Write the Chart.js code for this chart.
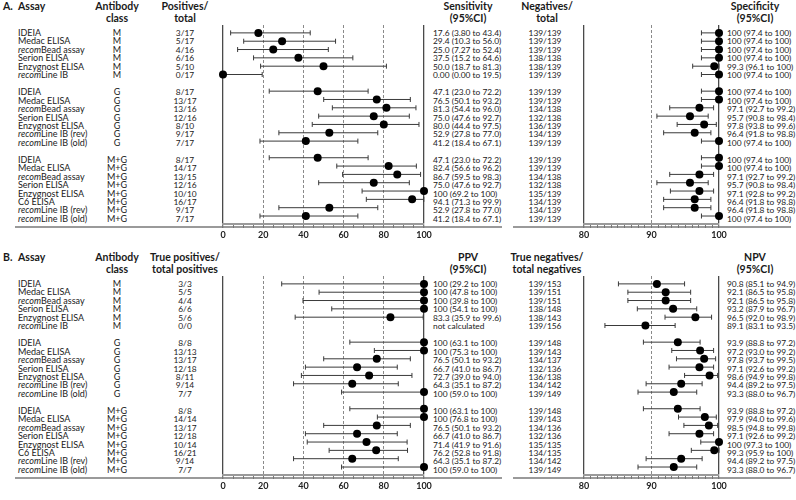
<!DOCTYPE html>
<html>
<head>
<meta charset="utf-8">
<script src="https://cdn.jsdelivr.net/npm/chart.js@4"></script>
<style>
body { margin: 0; background: #fff; width: 796px; height: 500px; position: relative; overflow: hidden;
       font-family: Lato, "Noto Sans", sans-serif; color: #1a1a1a; }
.t { position: absolute; font-size: 8.4px; line-height: 10px; white-space: pre; }
.n { font-size: 9px; }
.c { text-align: center; width: 100px; }
.h { position: absolute; font-size: 10.5px; font-weight: bold; line-height: 12px; white-space: pre; }
.rule { position: absolute; height: 2px; background: #9a9a9a; }
canvas { position: absolute; }
</style>
</head>
<body>
<script>
// row slots (blank slot between M, G and M+G blocks)
const slots = [0, 1, 2, 3, 4, 5, 7, 8, 9, 10, 11, 12, 13, 15, 16, 17, 18, 19, 20, 21, 22];
const assays = ["IDEIA", "Medac ELISA", "recomBead assay", "Serion ELISA", "Enzygnost ELISA", "recomLine IB",
    "IDEIA", "Medac ELISA", "recomBead assay", "Serion ELISA", "Enzygnost ELISA", "recomLine IB (rev)", "recomLine IB (old)",
    "IDEIA", "Medac ELISA", "recomBead assay", "Serion ELISA", "Enzygnost ELISA", "C6 ELISA", "recomLine IB (rev)", "recomLine IB (old)"];
const abClass = ["M", "M", "M", "M", "M", "M", "G", "G", "G", "G", "G", "G", "G",
    "M+G", "M+G", "M+G", "M+G", "M+G", "M+G", "M+G", "M+G"];

// A. sensitivity / specificity
const positives = ["3/17", "5/17", "4/16", "6/16", "5/10", "0/17",
    "8/17", "13/17", "13/16", "12/16", "8/10", "9/17", "7/17",
    "8/17", "14/17", "13/15", "12/16", "10/10", "16/17", "9/17", "7/17"];
const sensEst = [17.6, 29.4, 25.0, 37.5, 50.0, 0, 47.1, 76.5, 81.3, 75.0, 80.0, 52.9, 41.2, 47.1, 82.4, 86.7, 75.0, 100, 94.1, 52.9, 41.2];
const sensLo = [3.8, 10.3, 7.27, 15.2, 18.7, 0, 23.0, 50.1, 54.4, 47.6, 44.4, 27.8, 18.4, 23.0, 56.6, 59.5, 47.6, 69.2, 71.3, 27.8, 18.4];
const sensHi = [43.4, 56.0, 52.4, 64.6, 81.3, 19.5, 72.2, 93.2, 96.0, 92.7, 97.5, 77.0, 67.1, 72.2, 96.2, 98.3, 92.7, 100, 99.9, 77.0, 67.1];
const negatives = ["139/139", "139/139", "139/139", "138/138", "138/139", "139/139",
    "139/139", "139/139", "134/138", "132/138", "136/139", "134/139", "139/139",
    "139/139", "139/139", "134/138", "132/138", "135/139", "134/139", "134/139", "139/139"];
const specEst = [100, 100, 100, 100, 99.3, 100, 100, 100, 97.1, 95.7, 97.8, 96.4, 100, 100, 100, 97.1, 95.7, 97.1, 96.4, 96.4, 100];
const specLo = [97.4, 97.4, 97.4, 97.4, 96.1, 97.4, 97.4, 97.4, 92.7, 90.8, 93.8, 91.8, 97.4, 97.4, 97.4, 92.7, 90.8, 92.8, 91.8, 91.8, 97.4];
const specHi = [100, 100, 100, 100, 100, 100, 100, 100, 99.2, 98.4, 99.6, 98.8, 100, 100, 100, 99.2, 98.4, 99.2, 98.8, 98.8, 100];

// B. PPV / NPV
const truePos = ["3/3", "5/5", "4/4", "6/6", "5/6", "0/0",
    "8/8", "13/13", "13/17", "12/18", "8/11", "9/14", "7/7",
    "8/8", "14/14", "13/17", "12/18", "10/14", "16/21", "9/14", "7/7"];
const ppvEst = [100, 100, 100, 100, 83.3, null, 100, 100, 76.5, 66.7, 72.7, 64.3, 100, 100, 100, 76.5, 66.7, 71.4, 76.2, 64.3, 100];
const ppvLo = [29.2, 47.8, 39.8, 54.1, 35.9, null, 63.1, 75.3, 50.1, 41.0, 39.0, 35.1, 59.0, 63.1, 76.8, 50.1, 41.0, 41.9, 52.8, 35.1, 59.0];
const ppvHi = [100, 100, 100, 100, 99.6, null, 100, 100, 93.2, 86.7, 94.0, 87.2, 100, 100, 100, 93.2, 86.7, 91.6, 91.8, 87.2, 100];
const trueNeg = ["139/153", "139/151", "139/151", "138/148", "138/143", "139/156",
    "139/148", "139/143", "134/137", "132/136", "136/138", "134/142", "139/149",
    "139/148", "139/143", "134/136", "132/136", "135/135", "134/135", "134/142", "139/149"];
const npvEst = [90.8, 92.1, 92.1, 93.2, 96.5, 89.1, 93.9, 97.2, 97.8, 97.1, 98.6, 94.4, 93.3, 93.9, 97.9, 98.5, 97.1, 100, 99.3, 94.4, 93.3];
const npvLo = [85.1, 86.5, 86.5, 87.9, 92.0, 83.1, 88.8, 93.0, 93.7, 92.6, 94.9, 89.2, 88.0, 88.8, 94.0, 94.8, 92.6, 97.3, 95.9, 89.2, 88.0];
const npvHi = [94.9, 95.8, 95.8, 96.7, 98.9, 93.5, 97.2, 99.2, 99.5, 99.2, 99.8, 97.5, 96.7, 97.2, 99.6, 99.8, 99.2, 100, 100, 97.5, 96.7];

Chart.defaults.font.family = "Lato, 'Noto Sans', sans-serif";
Chart.defaults.animation = false;

const PITCH = 8.45;

function addText(html, cls, left, top) {
    const d = document.createElement("div");
    d.className = cls;
    d.style.left = left + "px";
    d.style.top = top + "px";
    d.innerHTML = html;
    document.body.appendChild(d);
}

function fmt(v) { return v.toPrecision(3); }

function ciText(e, l, h) {
    if (e === null) return "not calculated";
    return fmt(e) + " (" + fmt(l) + " to " + fmt(h) + ")";
}

function forest(x0, x1, yTop, yBot, xmin, xmax, step, every, solidAt, dashAt, est, lo, hi) {
    const pad = 20, axisH = 20;
    const cv = document.createElement("canvas");
    cv.width = (x1 - x0) + 2 * pad;
    cv.height = (yBot - yTop) + 2 + axisH;
    document.body.appendChild(cv);

    const datasets = [{
        data: [],
        clip: false,
        pointRadius: 4,
        pointBackgroundColor: "#000",
        pointBorderWidth: 0,
        order: 0
    }];
    est.forEach((e, i) => {
        if (e === null) return;
        datasets[0].data.push({ x: e, y: slots[i] });
        datasets.push({
            data: [{ x: lo[i], y: slots[i] }, { x: hi[i], y: slots[i] }],
            clip: false,
            showLine: true,
            borderColor: "#3a3a3a",
            borderWidth: 1,
            pointStyle: "line",
            rotation: 90,
            pointRadius: 2.5,
            pointBorderColor: "#3a3a3a",
            pointBorderWidth: 1,
            order: 1
        });
    });

    const chart = new Chart(cv, {
        type: "scatter",
        data: { datasets: datasets },
        options: {
            responsive: false,
            devicePixelRatio: 1,
            layout: { padding: { left: pad, right: pad, top: 2, bottom: 0 } },
            plugins: { legend: { display: false }, tooltip: { enabled: false } },
            scales: {
                x: {
                    type: "linear", min: xmin, max: xmax,
                    afterFit: (s) => { s.height = axisH; },
                    ticks: {
                        stepSize: step, autoSkip: false, maxRotation: 0, padding: 2,
                        color: "#222", font: { size: 9, weight: "bold" },
                        callback: (v) => (v % every === 0 ? v : "")
                    },
                    grid: {
                        color: (c) => solidAt.includes(c.tick.value) ? "#4a4a4a"
                            : dashAt.includes(c.tick.value) ? "#8a8a8a" : "rgba(0,0,0,0)",
                        lineWidth: (c) => solidAt.includes(c.tick.value) ? 1.3 : 1,
                        tickColor: "#777",
                        tickLength: 4
                    },
                    border: {
                        color: "#9a9a9a", width: 2,
                        dash: (c) => (c.tick && dashAt.includes(c.tick.value)) ? [3, 2] : []
                    }
                },
                y: {
                    type: "linear", reverse: true, display: false,
                    min: -8 / PITCH, max: 194 / PITCH
                }
            }
        }
    });
    const a = chart.chartArea;
    cv.style.left = (x0 - a.left) + "px";
    cv.style.top = (yTop - a.top) + "px";
}

function section(y0, letter, cntHead, counts, ciHead, est, lo, hi, negHead, negs, rHead, rEst, rLo, rHi) {
    addText(letter, "h", 3, y0);
    addText("Assay", "h", 18, y0);
    addText("Antibody\nclass", "h c", 67, y0);
    addText(cntHead, "h c", 135, y0);
    addText(ciHead, "h c", 418, y0);
    addText(negHead, "h c", 497, y0);
    addText(rHead, "h c", 705, y0);

    slots.forEach((s, i) => {
        const ty = y0 + 33 + s * PITCH - 5;
        const name = assays[i].replace(/^recom/, "<i>recom</i>");
        addText(name, "t n", 18, ty);
        addText(abClass[i], "t n c", 67, ty);
        addText(counts[i], "t c", 135, ty);
        addText(ciText(est[i], lo[i], hi[i]), "t", 433, ty);
        addText(negs[i], "t c", 495, ty);
        addText(ciText(rEst[i], rLo[i], rHi[i]), "t", 727, ty);
    });

    const r1 = document.createElement("div");
    r1.className = "rule";
    r1.style.cssText = "left:15px;width:487px;top:" + (y0 + 226) + "px";
    document.body.appendChild(r1);
    const r2 = document.createElement("div");
    r2.className = "rule";
    r2.style.cssText = "left:513px;width:278px;top:" + (y0 + 226) + "px";
    document.body.appendChild(r2);

    forest(222.5, 423.5, y0 + 25, y0 + 227, 0, 100, 5, 20, [0, 100], [20, 40, 60, 80], est, lo, hi);
    forest(583.5, 718.5, y0 + 25, y0 + 227, 80, 100, 1, 10, [80, 100], [90], rEst, rLo, rHi);
}

section(0, "A.", "Positives/\ntotal", positives, "Sensitivity\n(95%CI)", sensEst, sensLo, sensHi,
    "Negatives/\ntotal", negatives, "Specificity\n(95%CI)", specEst, specLo, specHi);
section(251, "B.", "True positives/\ntotal positives", truePos, "PPV\n(95%CI)", ppvEst, ppvLo, ppvHi,
    "True negatives/\ntotal negatives", trueNeg, "NPV\n(95%CI)", npvEst, npvLo, npvHi);
</script>
</body>
</html>
